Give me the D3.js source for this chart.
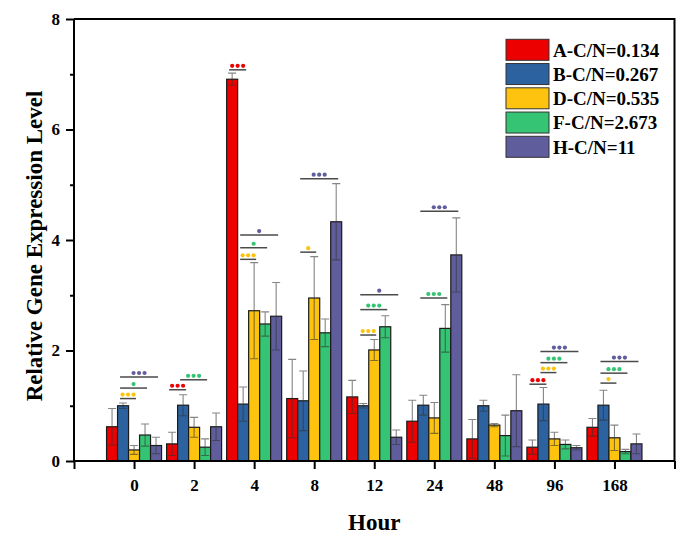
<!DOCTYPE html>
<html>
<head>
<meta charset="utf-8">
<script src="https://cdn.jsdelivr.net/npm/d3@7"></script>
<style>
  html, body { margin: 0; padding: 0; background: #fff; }
  svg { display: block; }
  text { font-family: "Liberation Serif", "Times New Roman", serif; font-weight: bold; fill: #000; }
</style>
</head>
<body>
<svg id="chart" width="692" height="544"></svg>
<script>
// ---------- data ----------
const hours = ["0", "2", "4", "8", "12", "24", "48", "96", "168"];
const seriesNames = ["A-C/N=0.134", "B-C/N=0.267", "D-C/N=0.535", "F-C/N=2.673", "H-C/N=11"];
const seriesColors = ["#ED0000", "#2C62A0", "#FDC30F", "#35C473", "#605D9C"];

const valuesA = [0.62, 0.31, 6.91, 1.13, 1.16, 0.72, 0.40, 0.25, 0.61];
const errorsA = [0.33, 0.21, 0.11, 0.71, 0.30, 0.38, 0.35, 0.13, 0.16];
const valuesB = [1.00, 1.01, 1.03, 1.09, 1.00, 1.01, 1.00, 1.03, 1.01];
const errorsB = [0.05, 0.19, 0.31, 0.54, 0.04, 0.18, 0.10, 0.30, 0.27];
const valuesD = [0.20, 0.61, 2.72, 2.95, 2.01, 0.78, 0.65, 0.40, 0.42];
const errorsD = [0.08, 0.18, 0.87, 0.75, 0.19, 0.28, 0.03, 0.12, 0.23];
const valuesF = [0.47, 0.25, 2.48, 2.32, 2.43, 2.40, 0.46, 0.30, 0.17];
const errorsF = [0.20, 0.15, 0.22, 0.25, 0.20, 0.43, 0.37, 0.08, 0.04];
const valuesH = [0.28, 0.62, 2.62, 4.33, 0.43, 3.73, 0.91, 0.24, 0.31];
const errorsH = [0.15, 0.25, 0.61, 0.69, 0.13, 0.67, 0.65, 0.04, 0.18];

const allValues = [valuesA, valuesB, valuesD, valuesF, valuesH];
const allErrors = [errorsA, errorsB, errorsD, errorsF, errorsH];

const yMajorTicks = [0, 2, 4, 6, 8];
const yMinorTicks = [1, 3, 5, 7];

// significance marks: [hour, series index compared with B, number of dots, line level]
const sigMarks = [
  ["0", 2, 3, 1.13], ["0", 3, 1, 1.32], ["0", 4, 3, 1.52],
  ["2", 0, 3, 1.29], ["2", 3, 3, 1.47],
  ["4", 0, 3, 7.08], ["4", 2, 3, 3.65], ["4", 3, 1, 3.86], ["4", 4, 1, 4.09],
  ["8", 2, 1, 3.78], ["8", 4, 3, 5.11],
  ["12", 2, 3, 2.28], ["12", 3, 3, 2.74], ["12", 4, 1, 3.01],
  ["24", 3, 3, 2.95], ["24", 4, 3, 4.52],
  ["96", 0, 3, 1.39], ["96", 2, 3, 1.60], ["96", 3, 3, 1.78], ["96", 4, 3, 1.98],
  ["168", 2, 1, 1.41], ["168", 3, 3, 1.59], ["168", 4, 3, 1.80]
];

// ---------- layout ----------
const svg = d3.select("#chart");
const pLeft = 74, pRight = 674.5, pTop = 19, pBottom = 461;

const x = d3.scalePoint().domain(hours).range([pLeft, pRight]).padding(1);
const inner = d3.scaleBand().domain(d3.range(seriesNames.length)).range([-27.5, 27.5]);
const y = d3.scaleLinear().domain([0, 8]).range([pBottom, pTop]);
const xEdge = d3.scaleLinear().domain([0, 1]).range([pLeft, pRight]);

const cx = (h, s) => x(h) + inner(s) + inner.bandwidth() / 2;

// ---------- bars ----------
const barData = [];
hours.forEach((h, i) => {
  allValues.forEach((vals, s) => {
    barData.push({ h, s, v: vals[i], e: allErrors[s][i] });
  });
});

const gBars = svg.append("g");
gBars.selectAll("rect").data(barData).join("rect")
  .attr("x", d => x(d.h) + inner(d.s))
  .attr("y", d => y(d.v))
  .attr("width", inner.bandwidth())
  .attr("height", d => y(0) - y(d.v))
  .attr("fill", d => seriesColors[d.s])
  .attr("stroke", "#1a1a1a")
  .attr("stroke-width", 1.2);

// ---------- error bars ----------
const gErr = svg.append("g").attr("stroke", "#333").attr("stroke-opacity", 0.6).attr("stroke-width", 1.1).attr("fill", "none");
const capW = 4;
gErr.selectAll("path").data(barData).join("path")
  .attr("d", d => {
    const c = cx(d.h, d.s);
    const y1 = y(d.v + d.e), y2 = y(Math.max(0, d.v - d.e));
    return `M${c},${y1}V${y2}M${c - capW},${y1}H${c + capW}M${c - capW},${y2}H${c + capW}`;
  });

// ---------- axes ----------
const axisFont = 17;
const gY = svg.append("g").attr("transform", `translate(${pLeft},0)`)
  .call(d3.axisLeft(y).tickValues(yMajorTicks).tickFormat(d3.format("d")).tickSize(8).tickPadding(6));
const gYm = svg.append("g").attr("transform", `translate(${pLeft},0)`)
  .call(d3.axisLeft(y).tickValues(yMinorTicks).tickFormat("").tickSize(4));
const gX = svg.append("g").attr("transform", `translate(0,${pBottom})`)
  .call(d3.axisBottom(x).tickSize(8).tickPadding(10));
const gXe = svg.append("g").attr("transform", `translate(0,${pBottom})`)
  .call(d3.axisBottom(xEdge).tickValues([0, 1]).tickFormat("").tickSize(8));

[gY, gYm, gX, gXe].forEach(g => {
  g.select(".domain").attr("stroke", "#000").attr("stroke-width", 2);
  g.selectAll(".tick line").attr("stroke", "#000").attr("stroke-width", 2);
  g.selectAll(".tick text").attr("font-size", axisFont)
    .style("font-family", '"Liberation Serif", "Times New Roman", serif').style("font-weight", "bold");
});
gY.select(".domain").attr("d", `M0,${pBottom}V${pTop}`);
gYm.select(".domain").remove();
gX.select(".domain").remove();
gXe.select(".domain").attr("d", `M${pLeft},0H${pRight}`);

// frame top + right
svg.append("path")
  .attr("d", `M${pLeft},${pTop}H${pRight}V${pBottom}`)
  .attr("fill", "none").attr("stroke", "#000").attr("stroke-width", 2);

// ---------- significance marks ----------
const gSig = svg.append("g");
sigMarks.forEach(([h, s, n, lvl]) => {
  let x1, x2;
  if (s === 0) { x1 = cx(h, 0) - 3; x2 = cx(h, 1) + 3; }
  else { x1 = cx(h, 1) - 3; x2 = cx(h, s) + 2; }
  const ly = y(lvl);
  gSig.append("line").attr("x1", x1).attr("x2", x2).attr("y1", ly).attr("y2", ly)
    .attr("stroke", "#4a4a4a").attr("stroke-width", 1.5);
  const mid = (x1 + x2) / 2;
  for (let k = 0; k < n; k++) {
    gSig.append("circle")
      .attr("cx", mid + (k - (n - 1) / 2) * 5.5)
      .attr("cy", ly - 4)
      .attr("r", 2.1)
      .attr("fill", seriesColors[s]);
  }
});

// ---------- titles ----------
svg.append("text")
  .attr("transform", `translate(34,${(pTop + pBottom) / 2 + 6}) rotate(-90)`)
  .attr("text-anchor", "middle").attr("dy", "0.35em")
  .attr("font-size", 23)
  .text("Relative Gene Expression Level");

svg.append("text")
  .attr("x", (pLeft + pRight) / 2).attr("y", 530)
  .attr("text-anchor", "middle")
  .attr("font-size", 23)
  .text("Hour");

// ---------- legend ----------
const legend = svg.append("g");
seriesNames.forEach((name, i) => {
  const ly = 39.3 + i * 24.25;
  legend.append("rect").attr("x", 506).attr("y", ly).attr("width", 43).attr("height", 21)
    .attr("fill", seriesColors[i]).attr("stroke", "#333").attr("stroke-width", 1);
  legend.append("text").attr("x", 553).attr("y", ly + 17.4)
    .attr("font-size", 19).text(name);
});
</script>
</body>
</html>
